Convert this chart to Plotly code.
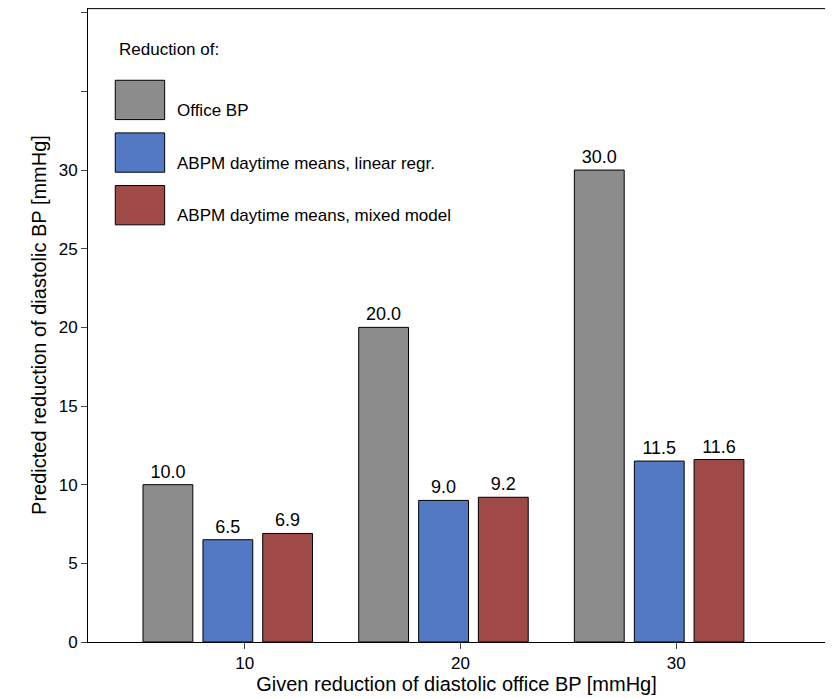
import plotly.graph_objects as go

given = [10, 20, 30]
office = [10.0, 20.0, 30.0]
linear = [6.5, 9.0, 11.5]
mixed = [6.9, 9.2, 11.6]
names = ["Office BP", "ABPM daytime means, linear regr.", "ABPM daytime means, mixed model"]
cols = ["#8c8c8c", "#5479c4", "#a04949"]

fig = go.Figure()
for vals, name, c, off in zip([office, linear, mixed], names, cols, [-4.72, -1.94, 0.83]):
    fig.add_trace(go.Bar(x=given, y=vals, name=name, marker_color=c,
                         marker_line=dict(color="black", width=1),
                         offset=off, width=2.31,
                         text=["%.1f" % v for v in vals], textposition="outside",
                         textfont=dict(size=18, color="black"), cliponaxis=False,
                         showlegend=False))

# legend drawn by hand (big swatches)
fig.add_annotation(x=0.04, y=0.934, xref="paper", yref="paper", text="Reduction of:",
                   showarrow=False, xanchor="left", yanchor="middle", font=dict(size=17))
for i, (name, c) in enumerate(zip(names, cols)):
    y0 = 0.886 - i * 0.083
    fig.add_shape(type="rect", xref="paper", yref="paper", x0=0.037, x1=0.104,
                  y0=y0 - 0.062, y1=y0, fillcolor=c, line=dict(color="black", width=1))
    fig.add_annotation(x=0.118, y=y0 - 0.048, xref="paper", yref="paper", text=name,
                       showarrow=False, xanchor="left", yanchor="middle", font=dict(size=17))
fig.add_shape(type="line", xref="paper", yref="paper", x0=0, x1=1, y0=0.999, y1=0.999,
              line=dict(color="black", width=1))

fig.update_layout(
    width=829, height=690, margin=dict(l=80, r=12, t=0, b=56),
    plot_bgcolor="white", paper_bgcolor="white",
    font=dict(family="Liberation Sans, Arial", size=17, color="black"),
    xaxis=dict(range=[2.73, 36.9], tickvals=given, ticks="outside", ticklen=6,
               tickfont=dict(size=17),
               showline=True, linecolor="black", showgrid=False, zeroline=False,
               title=dict(text="Given reduction of diastolic office BP [mmHg]", standoff=0)),
    yaxis=dict(range=[0, 40.3], tickvals=[0, 5, 10, 15, 20, 25, 30, 35, 40],
               ticktext=["0", "5", "10", "15", "20", "25", "30", "", ""],
               tickfont=dict(size=17),
               ticks="outside", ticklen=6, showline=True, linecolor="black",
               showgrid=False, zeroline=False,
               title=dict(text="Predicted reduction of diastolic BP [mmHg]", standoff=6)),
)
fig.write_html("out.html")
